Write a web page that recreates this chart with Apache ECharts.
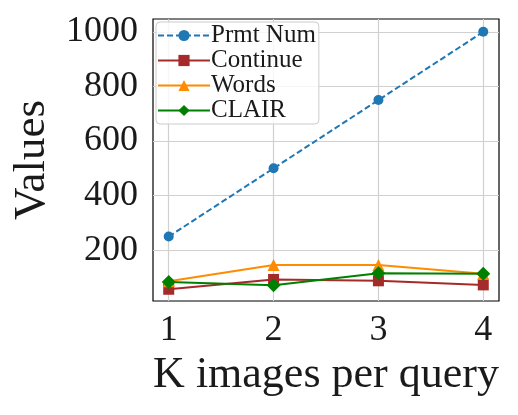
<!DOCTYPE html>
<html><head><meta charset="utf-8">
<script src="https://cdn.jsdelivr.net/npm/echarts@6/dist/echarts.min.js"></script>
<style>html,body{margin:0;padding:0;background:#fff}#c{width:518px;height:415px}</style>
</head><body><div id="c"></div>
<script>
const kValues = [1, 2, 3, 4];
const prmtNum = [250, 500, 750, 1000];
const continueVals = [57, 93, 88, 73];
const wordsVals = [86, 146, 146, 114];
const clairVals = [84, 72, 116, 114];
const yTicks = [200, 400, 600, 800, 1000];
const seriesNames = ['Prmt Num', 'Continue', 'Words', 'CLAIR'];

const font = '"Liberation Serif", "DejaVu Serif", serif';
const pair = arr => kValues.map((k, i) => [k, arr[i]]);

const chart = echarts.init(document.getElementById('c'));
chart.setOption({
  animation: false,
  backgroundColor: '#fff',
  grid: { left: 153, top: 19, right: 19, bottom: 114, show: true, borderColor: '#000', borderWidth: 1.2 },
  xAxis: {
    type: 'value', min: 0.85, max: 4.15,
    name: 'K images per query', nameLocation: 'middle', nameGap: 52,
    nameTextStyle: { fontFamily: font, fontSize: 44, color: '#1a1a1a' },
    axisLine: { show: false },
    axisTick: { show: false, customValues: kValues },
    axisLabel: { customValues: kValues, formatter: v => String(v), fontFamily: font, fontSize: 36, color: '#1a1a1a', margin: 12 },
    splitLine: { show: true, lineStyle: { color: '#d0d0d0', width: 1.2 } }
  },
  yAxis: {
    type: 'value', min: 14, max: 1047,
    name: 'Values', nameLocation: 'middle', nameGap: 94, nameRotate: 90,
    nameTextStyle: { fontFamily: font, fontSize: 45, color: '#1a1a1a' },
    axisLine: { show: false },
    axisTick: { show: false, customValues: yTicks },
    axisLabel: { customValues: yTicks, formatter: v => String(v), fontFamily: font, fontSize: 36, color: '#1a1a1a', margin: 15 },
    splitLine: { show: true, lineStyle: { color: '#d0d0d0', width: 1.2 } }
  },
  legend: {
    orient: 'vertical', left: 156, top: 22,
    data: seriesNames,
    itemWidth: 52, itemHeight: 14, itemGap: 0,
    padding: [1, 3, 1, 1],
    backgroundColor: 'rgba(255,255,255,0.8)', borderColor: '#cccccc', borderWidth: 1, borderRadius: 4,
    textStyle: { fontFamily: font, fontSize: 25, lineHeight: 24.5, color: '#1a1a1a', padding: [0, 0, 0, -4] }
  },
  series: [
    { name: 'Prmt Num', type: 'line', data: pair(prmtNum), symbol: 'circle', symbolSize: 10,
      lineStyle: { color: '#1f77b4', width: 2, type: [6, 3] }, itemStyle: { color: '#1f77b4' } },
    { name: 'Continue', type: 'line', data: pair(continueVals), symbol: 'rect', symbolSize: 11,
      lineStyle: { color: '#a52a2a', width: 2 }, itemStyle: { color: '#a52a2a' } },
    { name: 'Words', type: 'line', data: pair(wordsVals), symbol: 'triangle', symbolSize: 12,
      lineStyle: { color: '#ff8c00', width: 2 }, itemStyle: { color: '#ff8c00' } },
    { name: 'CLAIR', type: 'line', data: pair(clairVals), symbol: 'diamond', symbolSize: 14,
      lineStyle: { color: '#008000', width: 2 }, itemStyle: { color: '#008000' } }
  ]
});
</script></body></html>
